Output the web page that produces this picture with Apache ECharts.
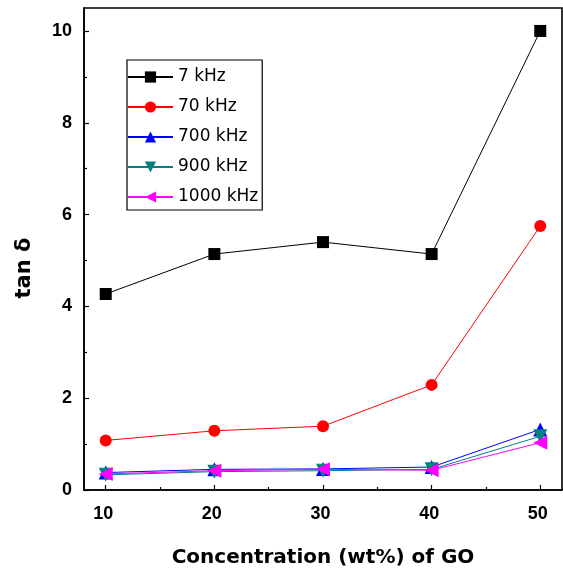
<!DOCTYPE html>
<html><head><meta charset="utf-8">
<script src="https://cdn.jsdelivr.net/npm/echarts@6/dist/echarts.min.js"></script>
<style>html,body{margin:0;padding:0;background:#fff}#c{width:563px;height:573px}</style>
</head><body><div id="c"></div>
<script>
var concentrations = [10, 20, 30, 40, 50];
var tan7k = [4.27, 5.14, 5.40, 5.14, 10.0];
var tan70k = [1.08, 1.29, 1.39, 2.29, 5.75];
var tan700k = [0.38, 0.45, 0.46, 0.50, 1.32];
var tan900k = [0.33, 0.40, 0.42, 0.45, 1.17];
var tan1000k = [0.35, 0.42, 0.45, 0.43, 1.03];
var xMajor = [10, 20, 30, 40, 50];
var xMinor = [15, 25, 35, 45];
var yMajor = [0, 2, 4, 6, 8, 10];
var yMinor = [1, 3, 5, 7, 9];

function pairs(v){ return concentrations.map(function(x,i){ return [x, v[i]]; }); }

var chart = echarts.init(document.getElementById('c'), null, {renderer:'canvas'});
var font = 'Liberation Sans, Arial, sans-serif';
var wide = 'DejaVu Sans, sans-serif';
function mk(name, data, color, symbol, size, rot){
  return {name:name, type:'line', data:pairs(data), xAxisIndex:0, yAxisIndex:0,
    symbol:symbol, symbolSize:size, symbolRotate:rot||0, showAllSymbol:true,
    lineStyle:{color:color, width:1}, itemStyle:{color:color}, animation:false};
}
chart.setOption({
  animation:false,
  grid:{left:84, right:1, top:8, bottom:83, outerBoundsMode:'none', containLabel:false, show:true, borderColor:'#000', borderWidth:1.6, backgroundColor:'transparent'},
  legend:{orient:'vertical', left:127, top:60, itemWidth:45, itemHeight:14, itemGap:10,
    padding:[7,4,3,0], borderColor:'#000', borderWidth:1.2, backgroundColor:'#fff',
    textStyle:{fontFamily:wide, fontSize:17, lineHeight:20, color:'#000', padding:[0,0,0,0]},
    data:['7 kHz','70 kHz','700 kHz','900 kHz','1000 kHz']},
  graphic:[{type:'text', x:25, y:268, rotation:Math.PI/2,
    style:{text:'tan δ', fontFamily:wide, fontSize:21, fontWeight:'bold', fill:'#000', align:'center', verticalAlign:'middle'}}],
  xAxis:[
    {type:'value', min:8, max:52, position:'bottom',
     name:'Concentration (wt%) of GO', nameLocation:'middle', nameGap:58,
     nameTextStyle:{fontFamily:wide, fontSize:20, fontWeight:'bold', color:'#000'},
     axisLine:{lineStyle:{color:'#000', width:1.6}},
     axisTick:{inside:true, length:5, customValues:xMajor, lineStyle:{color:'#000', width:1.2}},
     axisLabel:{customValues:xMajor, fontFamily:font, fontSize:18, fontWeight:'bold', color:'#000', margin:15, padding:[0,5,0,0]},
     splitLine:{show:false}},
    {type:'value', min:8, max:52, position:'bottom',
     axisLine:{show:false},
     axisTick:{inside:true, length:3, customValues:xMinor, lineStyle:{color:'#000', width:1.2}},
     axisLabel:{show:false}, splitLine:{show:false}}
  ],
  yAxis:[
    {type:'value', min:0, max:10.5, position:'left',
     axisLine:{lineStyle:{color:'#000', width:1.6}},
     axisTick:{inside:true, length:5, customValues:yMajor, lineStyle:{color:'#000', width:1.2}},
     axisLabel:{customValues:yMajor, fontFamily:font, fontSize:18, fontWeight:'bold', color:'#000', margin:12},
     splitLine:{show:false}},
    {type:'value', min:0, max:10.5, position:'left',
     axisLine:{show:false},
     axisTick:{inside:true, length:3, customValues:yMinor, lineStyle:{color:'#000', width:1.2}},
     axisLabel:{show:false}, splitLine:{show:false}}
  ],
  series:[
    mk('7 kHz', tan7k, '#000000', 'rect', 12),
    mk('70 kHz', tan70k, '#ff0000', 'circle', 12),
    mk('700 kHz', tan700k, '#0000ff', 'triangle', 14),
    mk('900 kHz', tan900k, '#008080', 'triangle', 14, 180),
    mk('1000 kHz', tan1000k, '#ff00ff', 'triangle', 14, 90)
  ]
});
</script></body></html>
